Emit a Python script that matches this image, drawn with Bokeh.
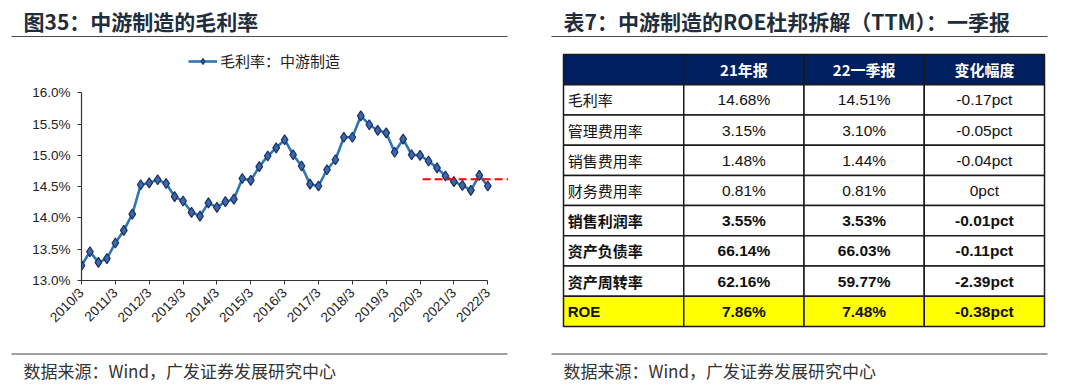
import math
from bokeh.plotting import figure
from bokeh.layouts import column, row
from bokeh.models import (Range1d, FixedTicker, PrintfTickFormatter, Legend,
                          LegendItem, ColumnDataSource)
from bokeh.core.properties import value
from bokeh.embed import file_html
from bokeh.resources import INLINE

# ---------------- data ----------------
quarters = [f"{y}/{m}" for y in range(2010, 2023) for m in (3, 6, 9, 12)][:49]
gross_margin = [13.24, 13.46, 13.29, 13.35, 13.60, 13.80, 14.06, 14.53, 14.56, 14.61,
                14.55, 14.34, 14.27, 14.09, 14.03, 14.24, 14.17, 14.26, 14.30, 14.63,
                14.60, 14.82, 14.99, 15.12, 15.25, 15.01, 14.83, 14.54, 14.51, 14.77,
                14.93, 15.29, 15.29, 15.63, 15.49, 15.40, 15.36, 15.05, 15.26, 15.01,
                15.00, 14.91, 14.80, 14.67, 14.58, 14.52, 14.44, 14.68, 14.51]
y_ticks = [13.0, 13.5, 14.0, 14.5, 15.0, 15.5, 16.0]
ref_level = 14.62
ref_x = [40.3, 50.4]  # quarter-index span of the red dashed reference line

chart_title = "图35：中游制造的毛利率"
table_title = "表7：中游制造的ROE杜邦拆解（TTM）：一季报"
legend_label = "毛利率：中游制造"
source_note = "数据来源：Wind，广发证券发展研究中心"

table_header = ["", "21年报", "22一季报", "变化幅度"]
table_metrics = ["毛利率", "管理费用率", "销售费用率", "财务费用率",
                 "销售利润率", "资产负债率", "资产周转率", "ROE"]
fy2021 = ["14.68%", "3.15%", "1.48%", "0.81%", "3.55%", "66.14%", "62.16%", "7.86%"]
q1_2022 = ["14.51%", "3.10%", "1.44%", "0.81%", "3.53%", "66.03%", "59.77%", "7.48%"]
change = ["-0.17pct", "-0.05pct", "-0.04pct", "0pct", "-0.01pct", "-0.11pct",
          "-2.39pct", "-0.38pct"]
bold_from = 4  # rows from 销售利润率 on are bold

CJK = "Noto Sans CJK SC"
LAT = "Liberation Sans"


def blank(w, h, xr, yr):
    f = figure(width=w, height=h, x_range=xr, y_range=yr, output_backend="svg",
               toolbar_location=None, x_axis_location=None, y_axis_location=None,
               min_border=0)
    f.grid.visible = False
    f.outline_line_color = None
    f.background_fill_color = "white"
    f.border_fill_color = "white"
    return f


# ---------------- header ----------------
hdr = blank(1064, 44, Range1d(0, 1064), Range1d(44, 0))
hdr.text(x=[23, 563], y=[20, 20], text=[chart_title, table_title],
         text_font=value(CJK), text_font_style="bold", text_font_size="21px",
         text_color="#1F2D3D", text_baseline="middle", text_align="left")
hdr.segment(x0=[11, 551], y0=[36, 36], x1=[507, 1047], y1=[36, 36],
            line_color="#4A4A4A", line_width=1.2)

# ---------------- line chart ----------------
p = figure(width=540, height=294, x_range=Range1d(0, 50.92), y_range=Range1d(13.0, 16.772),
           output_backend="svg", toolbar_location=None,
           min_border_left=81, min_border_right=28, min_border_top=0, min_border_bottom=58)
p.outline_line_color = None
p.grid.visible = False
p.background_fill_color = "white"
p.border_fill_color = "white"

src = ColumnDataSource(dict(x=list(range(len(gross_margin))), y=gross_margin, q=quarters))
line_r = p.line("x", "y", source=src, line_color="#2E75B6", line_width=2.6)
pts_r = p.scatter("x", "y", source=src, marker="diamond", size=10,
                  fill_color="#3A68AE", line_color="#1C2F5C", line_width=1.2)
p.line(ref_x, [ref_level, ref_level], line_color="#FF0000", line_width=2, line_dash="8 4")

xt = list(range(0, len(quarters), 4))
p.xaxis.ticker = FixedTicker(ticks=xt)
p.xaxis.major_label_overrides = {i: quarters[i] for i in xt}
p.xaxis.bounds = (0, len(quarters) - 1)
p.xaxis.major_label_orientation = math.pi / 4
p.yaxis.ticker = FixedTicker(ticks=y_ticks)
p.yaxis.formatter = PrintfTickFormatter(format="%.1f%%")
p.yaxis.bounds = (y_ticks[0], y_ticks[-1])
for ax in (p.xaxis, p.yaxis):
    ax.axis_line_color = "#333333"
    ax.axis_line_width = 1.2
    ax.major_tick_line_color = "#333333"
    ax.major_tick_in = 0
    ax.major_tick_out = 4
    ax.minor_tick_line_color = None
    ax.major_label_text_font = LAT
    ax.major_label_text_color = "#222222"
p.yaxis.major_label_text_font_size = "13.5px"
p.yaxis.major_label_standoff = 7
p.xaxis.major_label_text_font_size = "13.5px"
p.xaxis.major_label_standoff = 6

legend = Legend(items=[LegendItem(label=legend_label, renderers=[line_r, pts_r])],
                location=(107, 209), border_line_color=None, background_fill_alpha=0,
                padding=0, margin=0, spacing=0, glyph_width=29, glyph_height=14,
                label_standoff=3, label_text_font=CJK, label_text_font_size="15px",
                label_text_color="#222222")
p.add_layout(legend)

# ---------------- table ----------------
tb = blank(524, 294, Range1d(-0.1913, 4.1663), Range1d(9.398, -0.331))
n_rows = len(table_metrics) + 1
cells = dict(l=[], r=[], t=[], b=[], f=[])
for r in range(n_rows):
    for c in range(4):
        cells["l"].append(c)
        cells["r"].append(c + 1)
        cells["t"].append(r)
        cells["b"].append(r + 1)
        cells["f"].append("#002060" if r == 0 else ("#FFFF00" if r == n_rows - 1 else "white"))
tb.quad(left="l", right="r", top="t", bottom="b", fill_color="f", source=ColumnDataSource(cells),
        line_color="#1A1A1A", line_width=1.5)

tb.text(x=[1.5, 2.5, 3.5], y=[0.5] * 3, text=table_header[1:], text_font=value(CJK),
        text_font_style="bold", text_font_size="15px", text_color="white",
        text_align="center", text_baseline="middle")

styles = ["bold" if i >= bold_from else "normal" for i in range(len(table_metrics))]
lab = ColumnDataSource(dict(
    x=[0.035] * len(table_metrics), y=[i + 1.5 for i in range(len(table_metrics))],
    text=table_metrics, style=styles,
    font=[LAT if m.isascii() else CJK for m in table_metrics]))
tb.text(x="x", y="y", text="text", source=lab, text_font="font", text_font_style="style",
        text_font_size="15px", text_color="#111111", text_align="left",
        text_baseline="middle")

vals = dict(x=[], y=[], text=[], style=[])
for i in range(len(table_metrics)):
    for c, col in enumerate((fy2021, q1_2022, change)):
        vals["x"].append(c + 1.5)
        vals["y"].append(i + 1.5)
        vals["text"].append(col[i])
        vals["style"].append(styles[i])
tb.text(x="x", y="y", text="text", source=ColumnDataSource(vals), text_font=value(LAT),
        text_font_style="style", text_font_size="15.5px", text_color="#111111",
        text_align="center", text_baseline="middle")

# ---------------- footer ----------------
ftr = blank(1064, 50, Range1d(0, 1064), Range1d(50, 0))
ftr.segment(x0=[11, 551], y0=[15.5, 15.5], x1=[507, 1047], y1=[15.5, 15.5],
            line_color="#A0A0A0", line_width=1.8)
ftr.text(x=[23, 563], y=[32, 32], text=[source_note, source_note], text_font=value(CJK),
         text_font_size="17px", text_color="#333333", text_align="left",
         text_baseline="middle")

page = column(hdr, row(column(p), column(tb)), ftr)
open("out.html", "w").write(file_html(page, INLINE))
